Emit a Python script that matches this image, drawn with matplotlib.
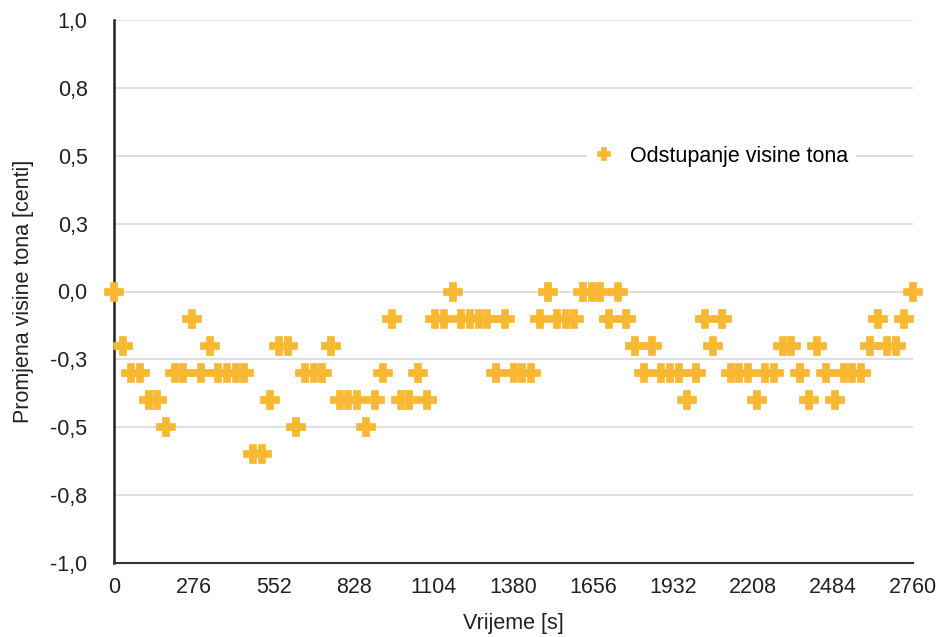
import matplotlib
matplotlib.use("Agg")
import matplotlib.pyplot as plt
import numpy as np

plt.rcParams['font.family'] = ['Liberation Sans', 'DejaVu Sans']

# Vrijeme [s] - uzorci svakih 30 s
vrijeme = np.arange(0, 2761, 30)

# Odstupanje visine tona [centi], ocitano sa slike
odstupanje = [
    0.0, -0.2, -0.3, -0.3, -0.4, -0.4, -0.5, -0.3, -0.3, -0.1,
    -0.3, -0.2, -0.3, -0.3, -0.3, -0.3, -0.6, -0.6, -0.4, -0.2,
    -0.2, -0.5, -0.3, -0.3, -0.3, -0.2, -0.4, -0.4, -0.4, -0.5,
    -0.4, -0.3, -0.1, -0.4, -0.4, -0.3, -0.4, -0.1, -0.1, 0.0,
    -0.1, -0.1, -0.1, -0.1, -0.3, -0.1, -0.3, -0.3, -0.3, -0.1,
    0.0, -0.1, -0.1, -0.1, 0.0, 0.0, 0.0, -0.1, 0.0, -0.1,
    -0.2, -0.3, -0.2, -0.3, -0.3, -0.3, -0.4, -0.3, -0.1, -0.2,
    -0.1, -0.3, -0.3, -0.3, -0.4, -0.3, -0.3, -0.2, -0.2, -0.3,
    -0.4, -0.2, -0.3, -0.4, -0.3, -0.3, -0.3, -0.2, -0.1, -0.2,
    -0.2, -0.1, 0.0,
]

x_ticks = np.arange(0, 2761, 276)
y_ticks = [-1.0, -0.75, -0.5, -0.25, 0.0, 0.25, 0.5, 0.75, 1.0]
y_tick_labels = ['-1,0', '-0,8', '-0,5', '-0,3', '0,0', '0,3', '0,5', '0,8', '1,0']

boja = '#F8B832'
tekst = '#222222'

fig = plt.figure(figsize=(9.42, 6.37), dpi=100)
ax = fig.add_axes([114 / 942, 1 - 563 / 637, 799 / 942, 543 / 637])

ax.plot(vrijeme, odstupanje, linestyle='none', marker='P', markersize=12.5,
        color=boja, markeredgecolor=boja, markeredgewidth=1.2,
        label='Odstupanje visine tona', clip_on=False, zorder=3)

ax.set_xlim(0, 2760)
ax.set_ylim(-1.0, 1.0)
ax.set_xticks(x_ticks)
ax.set_xticklabels([str(t) for t in x_ticks])
ax.set_yticks(y_ticks)
ax.set_yticklabels(y_tick_labels)

ax.grid(axis='y', color='#d9d9d9', linewidth=1.2)
ax.set_axisbelow(True)
for side in ['top', 'right']:
    ax.spines[side].set_visible(False)
ax.spines['left'].set_linewidth(1.8)
ax.spines['bottom'].set_linewidth(1.5)
ax.spines['left'].set_color(tekst)
ax.spines['bottom'].set_color('#333333')

ax.tick_params(length=0, labelsize=15.5, colors=tekst)
ax.tick_params(axis='x', pad=10)
ax.tick_params(axis='y', pad=19)

ax.set_xlabel('Vrijeme [s]', fontsize=15.5, color=tekst, labelpad=11)
ax.set_ylabel('Promjena visine tona [centi]', fontsize=15.5, color=tekst, labelpad=12)

leg = ax.legend(loc='center left', bbox_to_anchor=(0.592, 0.749), frameon=True,
                fontsize=15.5, markerscale=0.7, handletextpad=0.7,
                handlelength=1.0, borderpad=0.3, borderaxespad=0)
leg.get_frame().set_facecolor('white')
leg.get_frame().set_edgecolor('white')
leg.get_frame().set_alpha(1.0)

plt.savefig('out.png', dpi=100)
